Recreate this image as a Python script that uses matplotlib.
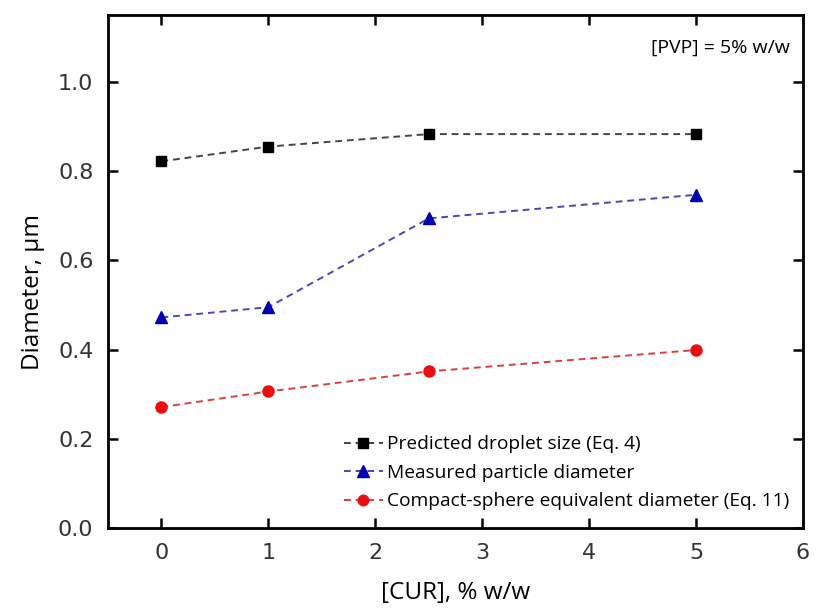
import matplotlib
matplotlib.use("Agg")
import matplotlib.pyplot as plt

cur = [0, 1, 2.5, 5]
predicted = [0.822, 0.855, 0.883, 0.883]
measured = [0.472, 0.495, 0.694, 0.747]
compact = [0.271, 0.306, 0.351, 0.399]
labels = ["Predicted droplet size (Eq. 4)", "Measured particle diameter",
          "Compact-sphere equivalent diameter (Eq. 11)"]
xticks = [0, 1, 2, 3, 4, 5, 6]
yticks = [0.0, 0.2, 0.4, 0.6, 0.8, 1.0]
ytick_labels = ["0.0", "0.2", "0.4", "0.6", "0.8", "1.0"]

FONT = "Open Sans"
fig = plt.figure(figsize=(8.16, 6.08), dpi=100)
ax = fig.add_axes([108 / 816, 80 / 608, 695 / 816, 513 / 608])

dash = (0, (3.5, 2.5))
ax.plot(cur, predicted, ls=dash, color="#444444", lw=1.4, marker="s", ms=7.5,
        mfc="black", mec="black", label=labels[0])
ax.plot(cur, measured, ls=dash, color="#4848b0", lw=1.4, marker="^", ms=9,
        mfc="#0000b0", mec="#0000b0", label=labels[1])
ax.plot(cur, compact, ls=dash, color="#d84040", lw=1.4, marker="o", ms=8,
        mfc="#e81010", mec="#e81010", label=labels[2])

ax.set_xlim(-0.5, 6.0)
ax.set_ylim(0, 1.15)
ax.set_xticks(xticks)
ax.set_yticks(yticks)
ax.set_yticklabels(ytick_labels)
ax.tick_params(direction="in", top=True, right=True, length=7, width=1.8,
               labelsize=16, pad=10.5)
for t in ax.get_xticklabels() + ax.get_yticklabels():
    t.set_fontfamily("DejaVu Sans")
    t.set_color("#333333")
for s in ax.spines.values():
    s.set_linewidth(2.0)

ax.set_xlabel("[CUR], % w/w", fontsize=17.5, family=FONT)
ax.xaxis.set_label_coords(0.5, -0.103)
ax.set_ylabel("Diameter, µm", fontsize=17.5, family=FONT)
ax.yaxis.set_label_coords(-0.090, 0.46)
ax.text(0.981, 0.953, "[PVP] = 5% w/w", transform=ax.transAxes, ha="right", va="top",
        fontsize=14, family=FONT)

ax.legend(loc="lower right", frameon=False, prop={"family": FONT, "size": 13.8},
          handlelength=2.0, handletextpad=0.25, labelspacing=0.55,
          bbox_to_anchor=(1.0, 0.008), markerscale=0.95, borderaxespad=0.3)

fig.savefig("out.png", dpi=100)
